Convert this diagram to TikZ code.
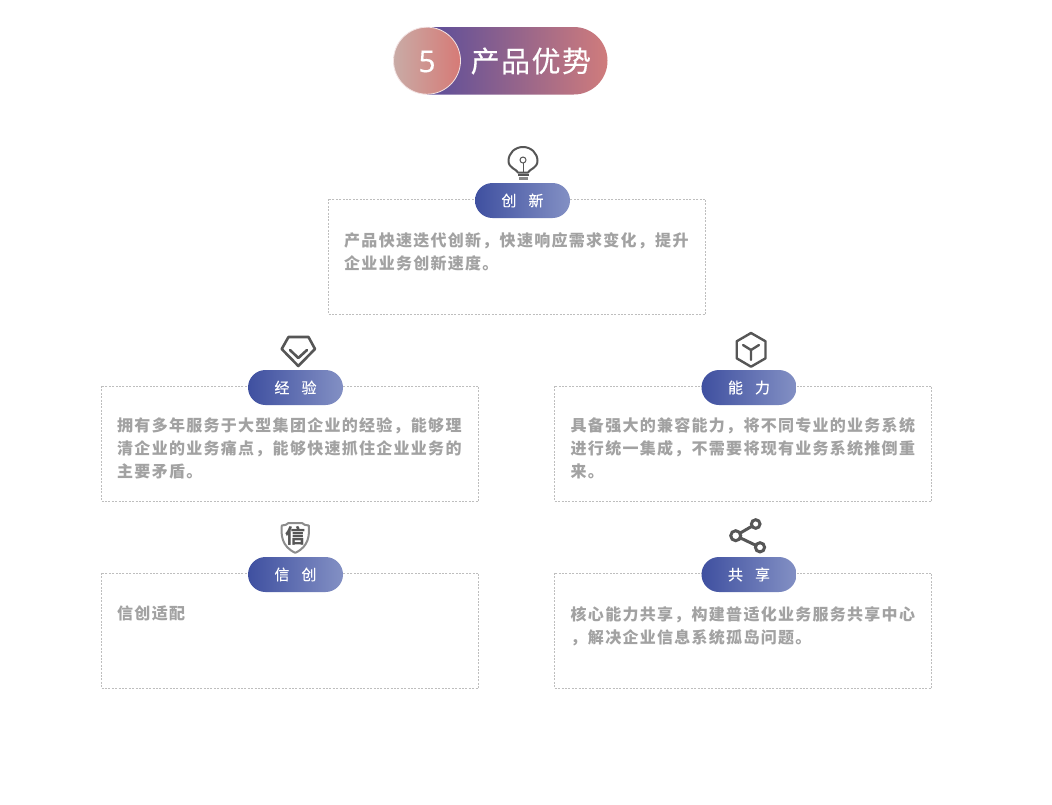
\documentclass[tikz,border=0pt]{standalone}
\usepackage{fontspec}
\setmainfont{Noto Sans CJK SC}
\newfontfamily\bodyfont[LetterSpace=8]{Noto Sans CJK SC}
\newfontfamily\titlefont[LetterSpace=5,FakeBold=0.3]{Noto Sans CJK SC}
\newfontfamily\tabfont[FakeBold=0.2]{Noto Sans CJK SC}
\newfontfamily\numfont[FakeBold=0.4]{Open Sans}
\definecolor{tabL}{HTML}{3F50A0}
\definecolor{tabR}{HTML}{8390C4}
\definecolor{bodygray}{HTML}{A2A2A2}
\definecolor{dashgray}{HTML}{BEBEBE}
\definecolor{icongray}{HTML}{565656}
\definecolor{shieldgray}{HTML}{8C8C8C}
\definecolor{headL}{HTML}{5A4D9A}
\definecolor{headR}{HTML}{D07C7C}
\definecolor{discL}{HTML}{C9ABA6}
\definecolor{discR}{HTML}{D67A76}
\definecolor{discEdge}{HTML}{F3E3E3}
\tikzset{
  x=1pt,y=-1pt,
  panel/.style={draw=dashgray,line width=0.8pt,dash pattern=on 2pt off 1.4pt,fill=white},
  tabpill/.style={minimum width=95pt,minimum height=35pt,rounded corners=17.5pt,left color=tabL,right color=tabR,
     draw=none,inner sep=0pt,text=white,font=\tabfont\fontsize{15}{15}\selectfont},
  bodytext/.style={anchor=north west,inner sep=0pt,align=left,text=bodygray,font=\bodyfont\bfseries\fontsize{16}{23}\selectfont},
  iconline/.style={draw=icongray,line width=2.4pt,line join=round,line cap=round},
}
\newcommand{\tabgap}{\hspace{12pt}}
\begin{document}
\begin{tikzpicture}
\useasboundingbox (0,0) rectangle (1052,804);
\fill[white] (0,0) rectangle (1052,804);

% header
\shade[left color=headL,right color=headR]
  (427,27) [rounded corners=33.7pt] -- (607.5,27) -- (607.5,94.5) [sharp corners] -- (427,94.5) -- cycle;
\node[circle,minimum size=67pt,inner sep=0pt,draw=discEdge,line width=0.8pt,
  left color=discL,right color=discR] (numdisc) at (427,60.7) {};
\node[text=white,font=\numfont\fontsize{30}{30}\selectfont] (num) at (427,61.5) {5};
\node[text=white,anchor=west,inner sep=0pt,font=\titlefont\fontsize{29}{29}\selectfont] (title) at (470.5,61) {产品优势};

% panels
\draw[panel] (328.5,199) rectangle (705.5,314.5);
\draw[panel] (101.5,386) rectangle (478.5,501.5);
\draw[panel] (554.7,386) rectangle (931.7,501.5);
\draw[panel] (101.5,573) rectangle (478.5,688.5);
\draw[panel] (554.7,573) rectangle (931.7,688.5);

% tabs
\node[tabpill] (t1) at (522.5,200.5) {创\tabgap 新};
\node[tabpill] (t2) at (295.5,387.5) {经\tabgap 验};
\node[tabpill] (t3) at (749,387.5) {能\tabgap 力};
\node[tabpill] (t4) at (295.5,574.5) {信\tabgap 创};
\node[tabpill] (t5) at (749,574.5) {共\tabgap 享};

% body text
\node[bodytext] (b1) at (344,232) {产品快速迭代创新，快速响应需求变化，提升\\企业业务创新速度。};
\node[bodytext] (b2) at (117,417.5) {拥有多年服务于大型集团企业的经验，能够理\\清企业的业务痛点，能够快速抓住企业业务的\\主要矛盾。};
\node[bodytext] (b3) at (570.5,417.5) {具备强大的兼容能力，将不同专业的业务系统\\进行统一集成，不需要将现有业务系统推倒重\\来。};
\node[bodytext] (b4) at (117,606) {信创适配};
\node[bodytext] (b5) at (570.5,606) {核心能力共享，构建普适化业务服务共享中心\\，解决企业信息系统孤岛问题。};

% bulb icon
\draw[iconline,line width=2pt] (518,172.5) .. controls (517,169.5) and (508.5,168) .. (508.5,161)
   .. controls (508.5,153) and (515,147) .. (523,147) .. controls (531,147) and (537.5,153) .. (537.5,161)
   .. controls (537.5,168) and (529,169.5) .. (528,172.5) -- cycle;
\draw[icongray,line width=1pt] (523,160) circle (3);
\draw[icongray,line width=1pt] (523,163) -- (523,173);
\fill[icongray] (517.5,173.5) rectangle (528.5,176);
\fill[icongray!70] (518.5,177) rectangle (527.5,179.5);

% diamond icon
\draw[iconline,line width=2.6pt] (288.5,337) -- (308.5,337) -- (315,349) -- (298.3,366) -- (281.7,349) -- cycle;
\draw[iconline,line width=2.6pt] (290,350) -- (298.3,358) -- (307,350);

% hexagon icon
\draw[iconline] (751,333) -- (765.5,341.3) -- (765.5,358.3) -- (751,366.7) -- (736.7,358.3) -- (736.7,341.3) -- cycle;
\draw[iconline] (751,360) -- (751,350) -- (743,345);
\draw[iconline] (751,350) -- (759,345);

% shield icon
\draw[draw=shieldgray,line width=2pt,line join=round,fill=white] (281.8,525.5) .. controls (285,525.5) and (287,524.5) .. (288.5,523)
  -- (302,523) .. controls (303.5,524.5) and (305.5,525.5) .. (308.8,525.5)
  .. controls (309.5,535) and (309,546.5) .. (295.3,552.8) .. controls (281.5,546.5) and (281,535) .. (281.8,525.5) -- cycle;
\node[text=icongray,inner sep=0pt,font=\bfseries\fontsize{20}{20}\selectfont] (shieldchar) at (295.3,536) {信};

% share icon
\coordinate (sa) at (755.7,524);
\coordinate (sb) at (735.7,535.7);
\coordinate (sc) at (760,547.3);
\draw[icongray,line width=3pt] (sb) -- (sa) (sb) -- (sc);
\draw[icongray,line width=3pt,fill=white] (sa) circle (4.3);
\draw[icongray,line width=3pt,fill=white] (sb) circle (5);
\draw[icongray,line width=3pt,fill=white] (sc) circle (4.6);
\end{tikzpicture}
\end{document}
